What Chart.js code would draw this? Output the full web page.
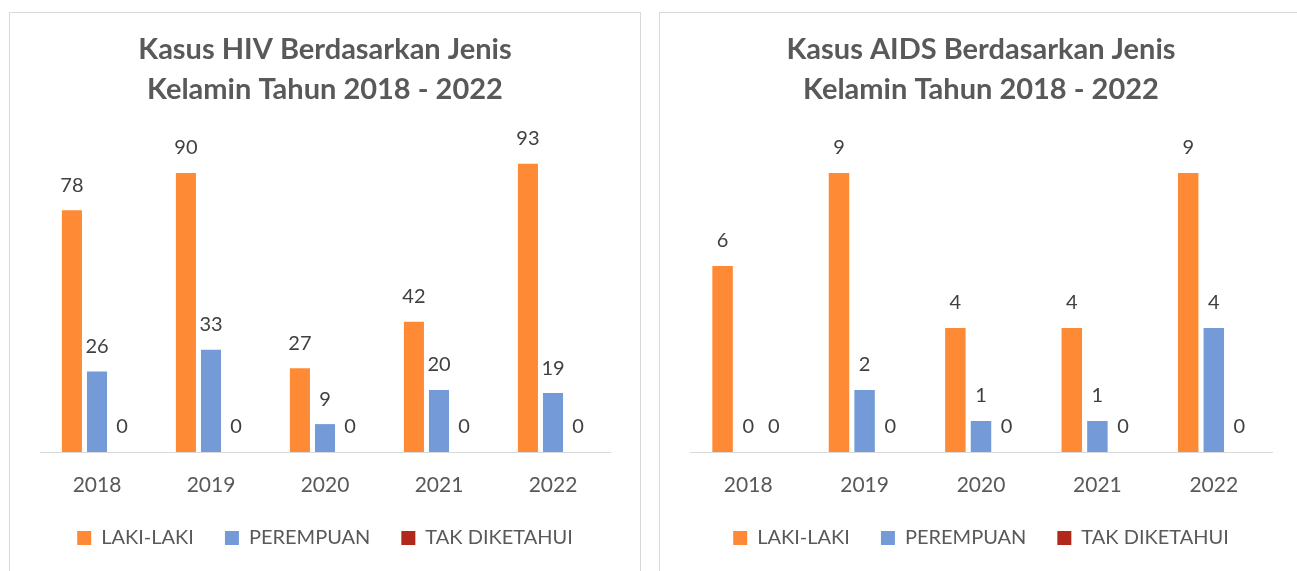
<!DOCTYPE html>
<html>
<head>
<meta charset="utf-8">
<script src="https://cdn.jsdelivr.net/npm/chart.js@4.4.1/dist/chart.umd.min.js"></script>
<style>
  html, body { margin: 0; padding: 0; background: #fff; overflow: hidden; }
  .panel { position: absolute; top: 12px; height: 600px; border: 1px solid #d9d9d9; background: #fff; }
  .box { position: absolute; top: 0; left: 0; }
</style>
</head>
<body>
<div class="panel" style="left:9px; width:630px;">
  <div class="box" style="width:630px; height:558px;"><canvas id="hivChart"></canvas></div>
</div>
<div class="panel" style="left:659px; width:660px;">
  <div class="box" style="width:637px; height:558px;"><canvas id="aidsChart"></canvas></div>
</div>
<script>
// data
const years = ['2018', '2019', '2020', '2021', '2022'];
const seriesNames = ['LAKI-LAKI', 'PEREMPUAN', 'TAK DIKETAHUI'];

const hivLaki = [78, 90, 27, 42, 93];
const hivPerempuan = [26, 33, 9, 20, 19];
const hivTakDiketahui = [0, 0, 0, 0, 0];

const aidsLaki = [6, 9, 4, 4, 9];
const aidsPerempuan = [0, 2, 1, 1, 4];
const aidsTakDiketahui = [0, 0, 0, 0, 0];

const colors = ['#FF8A35', '#759AD8', '#B2281A'];
const FONT = "Lato, 'Open Sans', sans-serif";

// draws the value above each bar (Excel style data labels)
const valueLabels = {
  id: 'valueLabels',
  afterDatasetsDraw(chart) {
    const ctx = chart.ctx;
    ctx.save();
    ctx.font = `20px ${FONT}`;
    ctx.fillStyle = '#404040';
    ctx.textAlign = 'center';
    ctx.textBaseline = 'middle';
    chart.data.datasets.forEach((ds, i) => {
      chart.getDatasetMeta(i).data.forEach((bar, j) => {
        ctx.fillText(String(ds.data[j]), bar.x, bar.y - 25);
      });
    });
    ctx.restore();
  }
};

function makeChart(id, title, laki, perempuan, tak, yMax, padRight) {
  const values = [laki, perempuan, tak];
  return new Chart(document.getElementById(id), {
    type: 'bar',
    data: {
      labels: years,
      datasets: seriesNames.map((name, i) => ({
        label: name,
        data: values[i],
        backgroundColor: colors[i],
        borderWidth: 0,
        categoryPercentage: 0.66,
        barPercentage: 0.8
      }))
    },
    options: {
      responsive: true,
      maintainAspectRatio: false,
      animation: false,
      layout: { padding: { left: 30, right: padRight, top: 0, bottom: 13 } },
      scales: {
        x: {
          grid: { display: false, drawTicks: false },
          border: { display: true, color: '#d9d9d9', width: 1 },
          ticks: { color: '#595959', font: { family: FONT, size: 21 }, padding: 21 },
          afterFit: (scale) => { scale.height = 45; }
        },
        y: { display: false, min: 0, max: yMax }
      },
      plugins: {
        title: {
          display: true,
          text: title,
          color: '#595959',
          font: { family: FONT, size: 29, weight: 'bold', lineHeight: 1.38 },
          padding: { top: 17, bottom: 32 }
        },
        legend: {
          position: 'bottom',
          labels: {
            color: '#595959',
            font: { family: FONT, size: 20 },
            boxWidth: 14,
            boxHeight: 14,
            padding: 31
          }
        },
        tooltip: { enabled: false }
      }
    },
    plugins: [valueLabels]
  });
}

makeChart('hivChart', ['Kasus HIV Berdasarkan Jenis', 'Kelamin Tahun 2018 - 2022'],
  hivLaki, hivPerempuan, hivTakDiketahui, 100, 30);
makeChart('aidsChart', ['Kasus AIDS Berdasarkan Jenis', 'Kelamin Tahun 2018 - 2022'],
  aidsLaki, aidsPerempuan, aidsTakDiketahui, 10, 25);
</script>
</body>
</html>
